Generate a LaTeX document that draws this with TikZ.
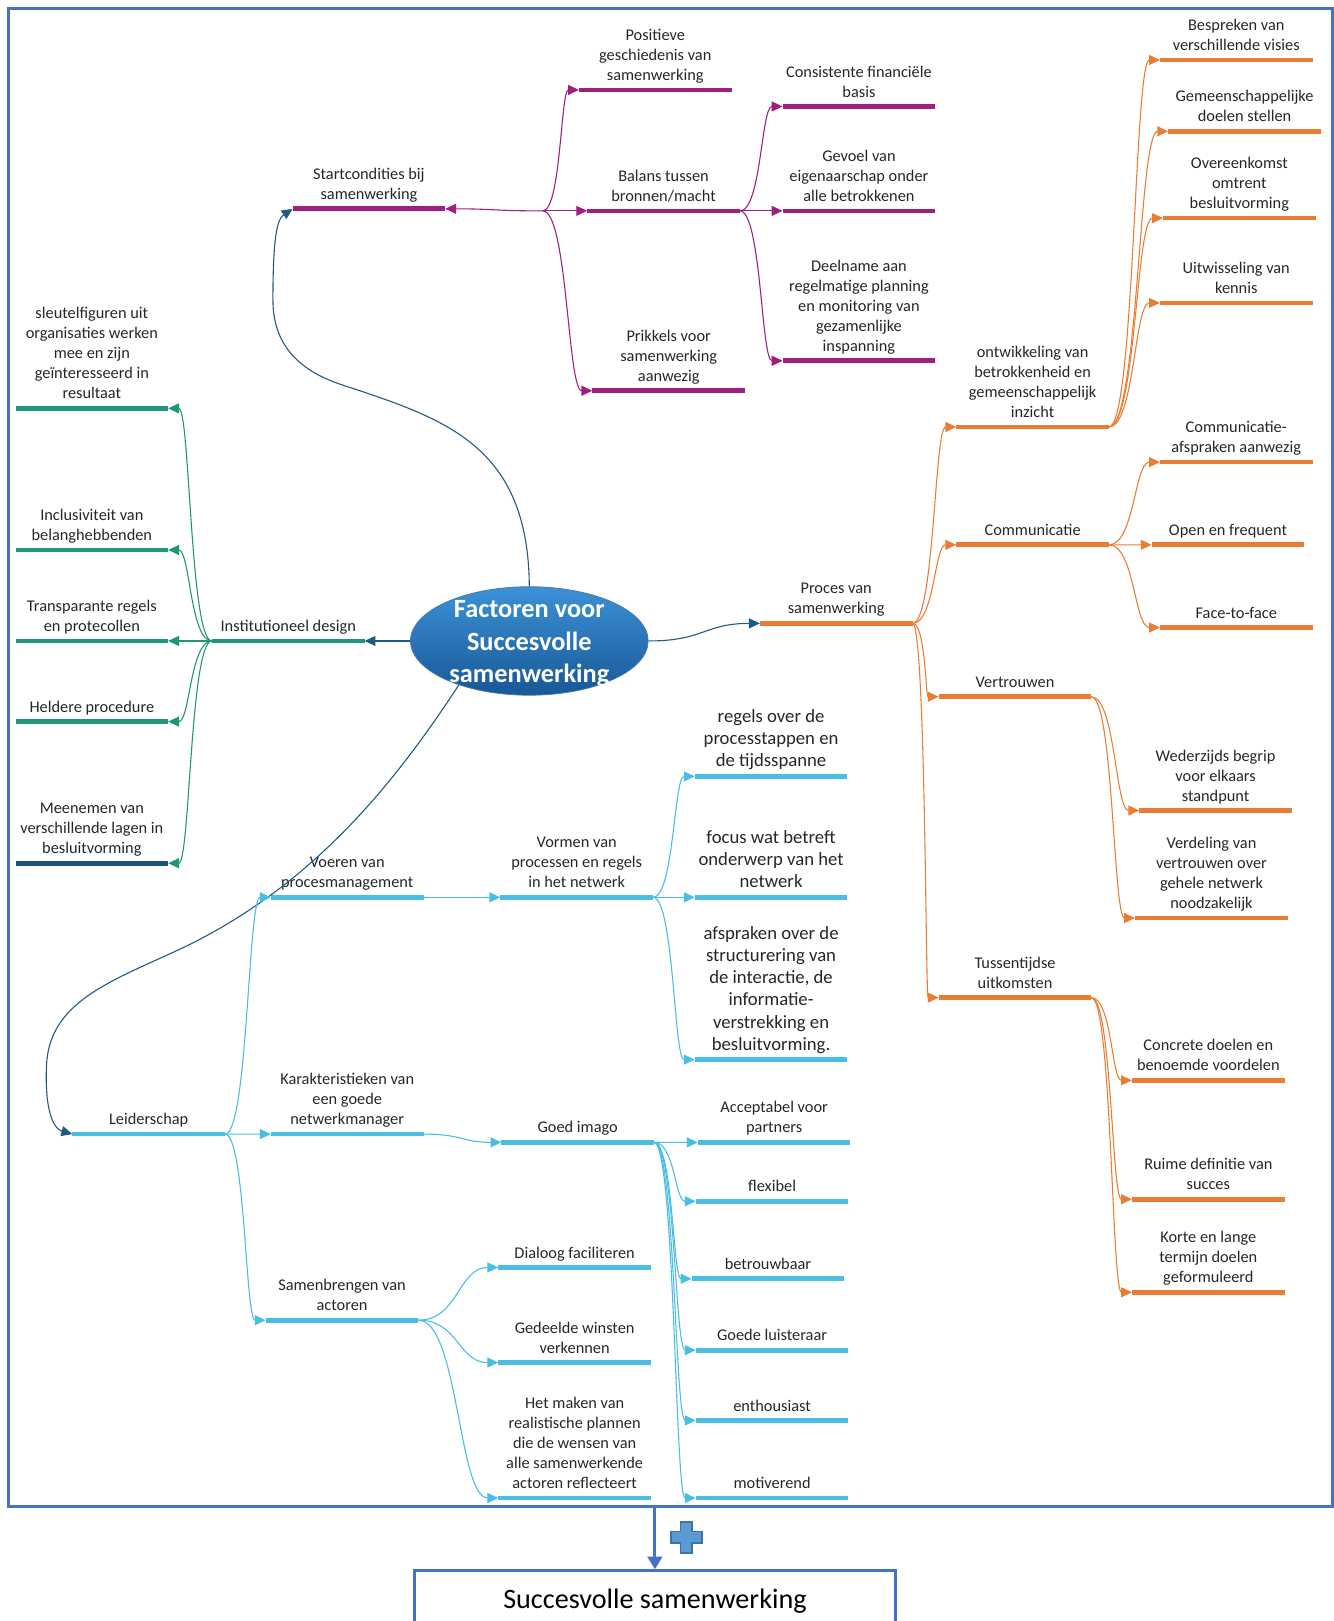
\documentclass[tikz,border=0pt]{standalone}
\usepackage{fontspec}
\setmainfont{Carlito}
\usetikzlibrary{arrows.meta,shapes.geometric,calc}

\definecolor{magbr}{RGB}{160,30,128}
\definecolor{orabr}{RGB}{234,125,52}
\definecolor{grnbr}{RGB}{30,150,120}
\definecolor{cyabr}{RGB}{72,190,226}
\definecolor{linkbl}{RGB}{30,90,130}
\definecolor{deepbl}{RGB}{28,80,125}
\definecolor{framebl}{RGB}{68,114,196}
\definecolor{plusfill}{RGB}{91,155,213}
\definecolor{plusedge}{RGB}{65,113,156}
\definecolor{coretop}{RGB}{60,145,215}
\definecolor{corebot}{RGB}{24,88,150}

\newcommand\lblfont{\fontsize{9}{11}\selectfont}
\newcommand\bigfont{\fontsize{10.3}{12.2}\selectfont}

\begin{document}
\begin{tikzpicture}[x=0.02cm,y=-0.02cm,
  topic/.style={anchor=south west,inner xsep=0pt,inner ysep=5pt,text depth=0pt,
    minimum width=2.94cm,align=center,font=\lblfont,text=black!85,
    append after command={(\tikzlastnode.south west) edge[draw=#1,line width=2.6pt] (\tikzlastnode.south east)}},
  branch/.style={to path={.. controls ($(\tikztostart)!0.5!(\tikztostart-|\tikztotarget)$)
    and ($(\tikztotarget)!0.5!(\tikztotarget-|\tikztostart)$) .. (\tikztotarget) \tikztonodes}},
  twig/.style={draw=#1,line width=0.6pt,-{Triangle[length=6pt,width=5.5pt]}}]
\useasboundingbox (0,0) rectangle (1290,1568);

% kern
\node[ellipse,minimum width=4.6cm,minimum height=2.1cm,inner sep=0pt,
  top color=coretop,bottom color=corebot,draw=corebot!80,line width=0.4pt] (core) at (512,620) {};
\node[text=white,align=center,font=\fontsize{14.5}{17.9}\selectfont\bfseries] (title) at (512,623)
  {Factoren voor\\Succesvolle\\samenwerking};

% startcondities
\node[topic=magbr] (start) at (283,202) {Startcondities bij\\samenwerking};
\node[topic=magbr] (pos) at (560,87) {Positieve\\geschiedenis van\\samenwerking};
\node[topic=magbr] (bal) at (568,204) {Balans tussen\\bronnen/macht};
\node[topic=magbr] (prik) at (573,378) {Prikkels voor\\samenwerking\\aanwezig};
\node[topic=magbr] (cons) at (757,103) {Consistente financiële\\basis};
\node[topic=magbr] (gev) at (757,204) {Gevoel van\\eigenaarschap onder\\alle betrokkenen};
\node[topic=magbr] (deel) at (757,349) {Deelname aan\\regelmatige planning\\en monitoring van\\gezamenlijke\\inspanning};

% proces van samenwerking
\node[topic=orabr] (proc) at (735,603) {Proces van\\samenwerking};
\node[topic=orabr] (ontw) at (925,413) {ontwikkeling van\\betrokkenheid en\\gemeenschappelijk\\inzicht};
\node[topic=orabr] (comm) at (925,527) {Communicatie};
\node[topic=orabr] (vert) at (908,674) {Vertrouwen};
\node[topic=orabr] (tuss) at (908,965) {Tussentijdse\\uitkomsten};
\node[topic=orabr] (besp) at (1122,58) {Bespreken van\\verschillende visies};
\node[topic=orabr] (gem) at (1130,127) {Gemeenschappelijke\\doelen stellen};
\node[topic=orabr] (over) at (1125,211) {Overeenkomst\\omtrent\\besluitvorming};
\node[topic=orabr] (uitw) at (1122,293) {Uitwisseling van\\kennis};
\node[topic=orabr] (cafs) at (1122,447) {Communicatie-\\afspraken aanwezig};
\node[topic=orabr] (open) at (1114,527) {Open en frequent};
\node[topic=orabr] (face) at (1122,607) {Face-to-face};
\node[topic=orabr] (wed) at (1102,784) {Wederzijds begrip\\voor elkaars\\standpunt};
\node[topic=orabr] (verd) at (1098,888) {Verdeling van\\vertrouwen over\\gehele netwerk\\noodzakelijk};
\node[topic=orabr] (conc) at (1095,1045) {Concrete doelen en\\benoemde voordelen};
\node[topic=orabr] (ruim) at (1095,1160) {Ruime definitie van\\succes};
\node[topic=orabr] (kort) at (1095,1250) {Korte en lange\\termijn doelen\\geformuleerd};

% institutioneel design
\node[topic=grnbr] (inst) at (205,620) {Institutioneel design};
\node[topic=grnbr] (sleu) at (15,395) {sleutelfiguren uit\\organisaties werken\\mee en zijn\\geïnteresseerd in\\resultaat};
\node[topic=grnbr] (incl) at (15,532) {Inclusiviteit van\\belanghebbenden};
\node[topic=grnbr] (trans) at (15,620) {Transparante regels\\en protecollen};
\node[topic=grnbr] (held) at (15,698) {Heldere procedure};
\node[topic=deepbl] (meen) at (15,835) {Meenemen van\\verschillende lagen in\\besluitvorming};

% leiderschap
\node[topic=cyabr] (lead) at (70,1097) {Leiderschap};
\node[topic=cyabr] (voer) at (262,868) {Voeren van\\procesmanagement};
\node[topic=cyabr] (kar) at (262,1097) {Karakteristieken van\\een goede\\netwerkmanager};
\node[topic=cyabr] (samb) at (257,1277) {Samenbrengen van\\actoren};
\node[topic=cyabr] (vorm) at (484,868) {Vormen van\\processen en regels\\in het netwerk};
\node[topic=cyabr,font=\bigfont] (regl) at (672,751) {regels over de\\processtappen en\\de tijdsspanne};
\node[topic=cyabr,font=\bigfont] (focs) at (672,868) {focus wat betreft\\onderwerp van het\\netwerk};
\node[topic=cyabr,font=\bigfont] (afsp) at (672,1025) {afspraken over de\\structurering van\\de interactie, de\\informatie-\\verstrekking en\\besluitvorming.};
\node[topic=cyabr] (imago) at (485,1105) {Goed imago};
\node[topic=cyabr] (acc) at (675,1105) {Acceptabel voor\\partners};
\node[topic=cyabr] (flex) at (673,1162) {flexibel};
\node[topic=cyabr] (betr) at (669,1237) {betrouwbaar};
\node[topic=cyabr] (luis) at (673,1306) {Goede luisteraar};
\node[topic=cyabr] (enth) at (673,1374) {enthousiast};
\node[topic=cyabr] (motv) at (673,1449) {motiverend};
\node[topic=cyabr] (dial) at (482,1226) {Dialoog faciliteren};
\node[topic=cyabr] (gedl) at (482,1318) {Gedeelde winsten\\verkennen};
\node[topic=cyabr] (real) at (482,1449) {Het maken van\\realistische plannen\\die de wensen van\\alle samenwerkende\\actoren reflecteert};

% vanuit de kern
\draw[twig=linkbl] (core.north) .. controls (511,430) and (430,405) .. (330,372)
  .. controls (285,357) and (264,330) .. (264,290)
  .. controls (264,230) and (268,212) .. (start.south west);
\draw[twig=linkbl] (core.east) to[branch] (proc.south west);
\draw[twig=linkbl] (core.west) -- (inst.south east);
\draw[twig=linkbl] (core.212) .. controls (380,760) and (300,860) .. (170,920)
  .. controls (105,950) and (48,970) .. (45,1030)
  .. controls (43,1075) and (52,1092) .. (lead.south west);

% takken
\coordinate (startHub) at (525,204);
\draw[twig=magbr] (startHub) to[branch] (start.south east);
\foreach \c in {pos,bal,prik} \draw[twig=magbr] (startHub) to[branch] (\c.south west);
\foreach \c in {cons,gev,deel} \draw[twig=magbr] (bal.south east) to[branch] (\c.south west);

\foreach \c in {ontw,comm,vert,tuss} \draw[twig=orabr] (proc.south east) to[branch] (\c.south west);
\foreach \c in {besp,gem,over,uitw} \draw[twig=orabr] (ontw.south east) to[branch] (\c.south west);
\foreach \c in {cafs,open,face} \draw[twig=orabr] (comm.south east) to[branch] (\c.south west);
\foreach \c in {wed,verd} \draw[twig=orabr] (vert.south east) to[branch] (\c.south west);
\foreach \c in {conc,ruim,kort} \draw[twig=orabr] (tuss.south east) to[branch] (\c.south west);

\foreach \c in {sleu,incl,trans,held,meen} \draw[twig=grnbr] (inst.south west) to[branch] (\c.south east);

\foreach \c in {voer,kar,samb} \draw[twig=cyabr] (lead.south east) to[branch] (\c.south west);
\draw[twig=cyabr] (voer.south east) to[branch] (vorm.south west);
\foreach \c in {regl,focs,afsp} \draw[twig=cyabr] (vorm.south east) to[branch] (\c.south west);
\draw[twig=cyabr] (kar.south east) to[branch] (imago.south west);
\foreach \c in {acc,flex,betr,luis,enth,motv} \draw[twig=cyabr] (imago.south east) to[branch] (\c.south west);
\foreach \c in {dial,gedl,real} \draw[twig=cyabr] (samb.south east) to[branch] (\c.south west);

% kader en resultaat
\node[draw=framebl,line width=1.7pt,minimum width=25.62cm,minimum height=28.98cm,
  anchor=north west,inner sep=0pt] (frame) at (7,7) {};
\node[draw=framebl,line width=1.7pt,minimum width=9.3cm,minimum height=1.16cm,anchor=north,
  inner sep=0pt,font=\fontsize{15.5}{18}\selectfont] (result) at (633.5,1518) {Succesvolle samenwerking};
\draw[framebl,line width=1.7pt,-{Triangle[length=7pt,width=8pt]}] (frame.south -| result.north) -- (result.north);
\filldraw[fill=plusfill,draw=plusedge,line width=0.8pt] (658.5,1472) -- ++(11,0) -- ++(0,9.5) -- ++(9.5,0)
  -- ++(0,11) -- ++(-9.5,0) -- ++(0,9.5) -- ++(-11,0) -- ++(0,-9.5) -- ++(-9.5,0) -- ++(0,-11) -- ++(9.5,0) -- cycle;
\end{tikzpicture}
\end{document}
